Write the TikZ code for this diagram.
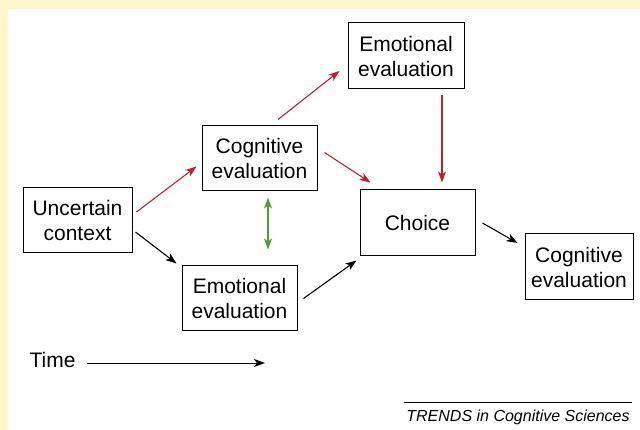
\documentclass[tikz,border=0pt]{standalone}
\usepackage{fontspec}
\setmainfont{Liberation Sans}
\usepackage{tikz}
\usetikzlibrary{arrows.meta,calc}
\definecolor{cream}{RGB}{255,245,204}
\definecolor{arrowred}{RGB}{192,32,45}
\definecolor{arrowgreen}{RGB}{78,158,48}
\tikzstyle{box}=[draw,line width=1pt,rectangle,align=center,inner sep=0pt,font=\fontsize{21}{25}\selectfont]
\tikzstyle{link}=[line width=1.1pt,->]

\begin{document}
\begin{tikzpicture}[x=1pt,y=-1pt,>={Stealth[length=11pt,width=8pt,inset=3pt]}]
\useasboundingbox (0,0) rectangle (640,430);
\fill[cream] (0,0) rectangle (640,430);
\fill[white] (8,9) rectangle (640,430);
\node [box,minimum width=109pt,minimum height=65pt] (ctx) at (77.5,220.5) {Uncertain\\context};
\node [box,minimum width=115pt,minimum height=65pt] (cogA) at (259.5,158.5) {Cognitive\\evaluation};
\node [box,minimum width=115pt,minimum height=65pt] (emoB) at (239.5,298.5) {Emotional\\evaluation};
\node [box,minimum width=116pt,minimum height=66pt] (emoT) at (406,56) {Emotional\\evaluation};
\node [box,minimum width=115pt,minimum height=66pt] (choice) at (417.5,223) {Choice};
\node [box,minimum width=108pt,minimum height=66pt] (cogR) at (579,267) {Cognitive\\evaluation};
\node [font=\fontsize{21}{25}\selectfont,inner sep=0pt] (time) at (52.5,360) {Time};
\coordinate (timeend) at (265,363);
\node [font=\fontsize{16}{19}\selectfont\itshape,inner sep=0pt] (trends) at (518,417) {TRENDS in Cognitive Sciences};

\draw [link,arrowred] ($(ctx.east)+(4,-8.5)$) -- ($(cogA.west)+(-5,8)$);
\draw [link] ($(ctx.east)+(3,11.5)$) -- ($(emoB.north west)+(-5,-2)$);
\draw [link,arrowred] ($(cogA.north)+(18.5,-6)$) -- ($(emoT.west)+(-8,15)$);
\draw [link,arrowred] ($(cogA.east)+(7,-6)$) -- ($(choice.north west)+(11,-7)$);
\draw [link,arrowred] ($(emoT.south)+(36,6)$) -- ($(choice.north)+(24.5,-7)$);
\draw [link] ($(emoB.east)+(6,0)$) -- ($(choice.south west)+(-3,4)$);
\draw [link] ($(choice.east)+(7,0)$) -- ($(cogR.west)+(-7,-24)$);
\draw [link,arrowgreen,<->] ($(cogA.south)+(8.5,6)$) -- ($(emoB.north)+(28.5,-16)$);
\draw [link,line width=1pt] ($(time.east)+(11,3)$) -- (timeend);
\draw [line width=0.6pt] ($(trends.north west)+(-2,-7)$) -- ($(trends.north east)+(2,-7)$);
\end{tikzpicture}
\end{document}
